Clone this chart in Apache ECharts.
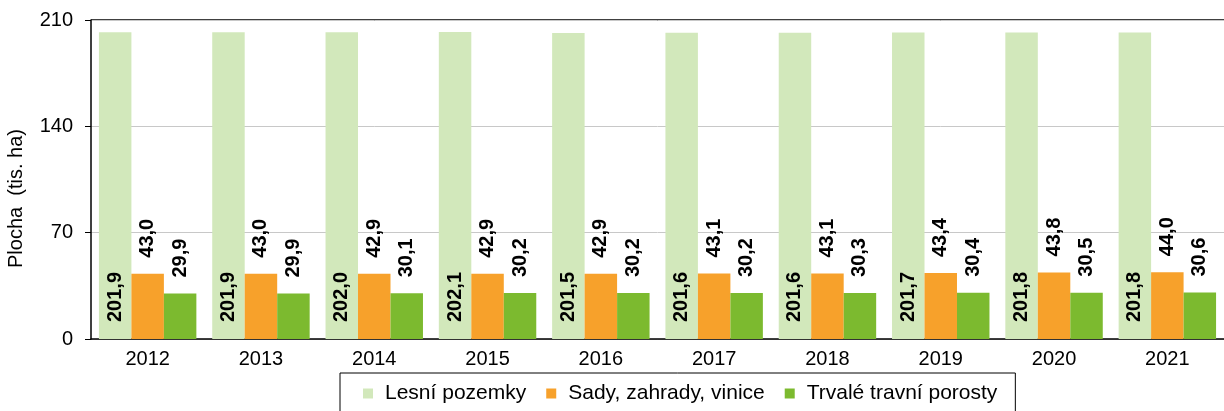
<!DOCTYPE html>
<html>
<head>
<meta charset="utf-8">
<script src="https://cdn.jsdelivr.net/npm/echarts@6/dist/echarts.min.js"></script>
<style>
  html, body { margin: 0; padding: 0; background: #fff; }
  #chart { width: 1224px; height: 411px; }
</style>
</head>
<body>
<div id="chart"></div>
<script>
const years = ['2012', '2013', '2014', '2015', '2016', '2017', '2018', '2019', '2020', '2021']
const lesni = [201.9, 201.9, 202.0, 202.1, 201.5, 201.6, 201.6, 201.7, 201.8, 201.8]
const sady = [43.0, 43.0, 42.9, 42.9, 42.9, 43.1, 43.1, 43.4, 43.8, 44.0]
const travni = [29.9, 29.9, 30.1, 30.2, 30.2, 30.2, 30.3, 30.4, 30.5, 30.6]
const seriesNames = ['Lesní pozemky', 'Sady, zahrady, vinice', 'Trvalé travní porosty']

const font = 'Liberation Sans, Arial, sans-serif'
const fmt = (p) => p.value.toFixed(1).replace('.', ',')

const labelTop = {
  show: true, position: 'top', rotate: 90, align: 'left', verticalAlign: 'middle',
  distance: 16, formatter: fmt, color: '#000', fontWeight: 'bold', fontSize: 20, fontFamily: font
}

const chart = echarts.init(document.getElementById('chart'), null, {renderer: 'canvas'})
chart.setOption({
  animation: false,
  textStyle: {fontFamily: font},
  grid: {left: 91, right: 0, top: 20, bottom: 72, outerBoundsMode: 'none'},
  legend: {
    data: seriesNames,
    left: 340, top: 373,
    padding: [10, 18, 30, 23],
    borderColor: '#000', borderWidth: 1,
    itemWidth: 10, itemHeight: 10, itemGap: 20,
    icon: 'rect',
    textStyle: {fontSize: 21, color: '#000', fontFamily: font, padding: [0, 0, 0, 7]}
  },
  xAxis: {
    type: 'category',
    data: years,
    axisLine: {lineStyle: {color: '#000', width: 1.5}},
    axisTick: {length: 6, lineStyle: {color: '#000'}},
    axisLabel: {color: '#000', fontSize: 20, margin: 10}
  },
  yAxis: {
    type: 'value',
    min: 0, max: 210, interval: 70,
    name: 'Plocha  (tis. ha)',
    nameLocation: 'middle',
    nameGap: 65,
    nameTextStyle: {fontSize: 20, color: '#000', padding: [0, 0, 0, -38]},
    axisLine: {show: true, lineStyle: {color: '#000', width: 1.5}},
    axisTick: {show: true, length: 6, lineStyle: {color: '#000'}},
    axisLabel: {color: '#000', fontSize: 20, margin: 18},
    splitLine: {lineStyle: {color: '#c8c8c8', width: 1}}
  },
  graphic: [{
    type: 'line', shape: {x1: 91, y1: 20, x2: 1224, y2: 20},
    style: {stroke: '#000', lineWidth: 1.5}
  }],
  series: [
    {
      name: seriesNames[0], type: 'bar', data: lesni,
      barGap: '0%', barCategoryGap: '14%',
      itemStyle: {color: '#d2e8bb'},
      label: {
        show: true, position: 'insideBottom', rotate: 90, align: 'left', verticalAlign: 'middle',
        distance: 17, formatter: fmt, color: '#000', fontWeight: 'bold', fontSize: 20, fontFamily: font
      }
    },
    {
      name: seriesNames[1], type: 'bar', data: sady,
      barGap: '0%', barCategoryGap: '14%',
      itemStyle: {color: '#f7a12b'},
      label: labelTop
    },
    {
      name: seriesNames[2], type: 'bar', data: travni,
      barGap: '0%', barCategoryGap: '14%',
      itemStyle: {color: '#7cba2f'},
      label: labelTop
    }
  ]
})
</script>
</body>
</html>
